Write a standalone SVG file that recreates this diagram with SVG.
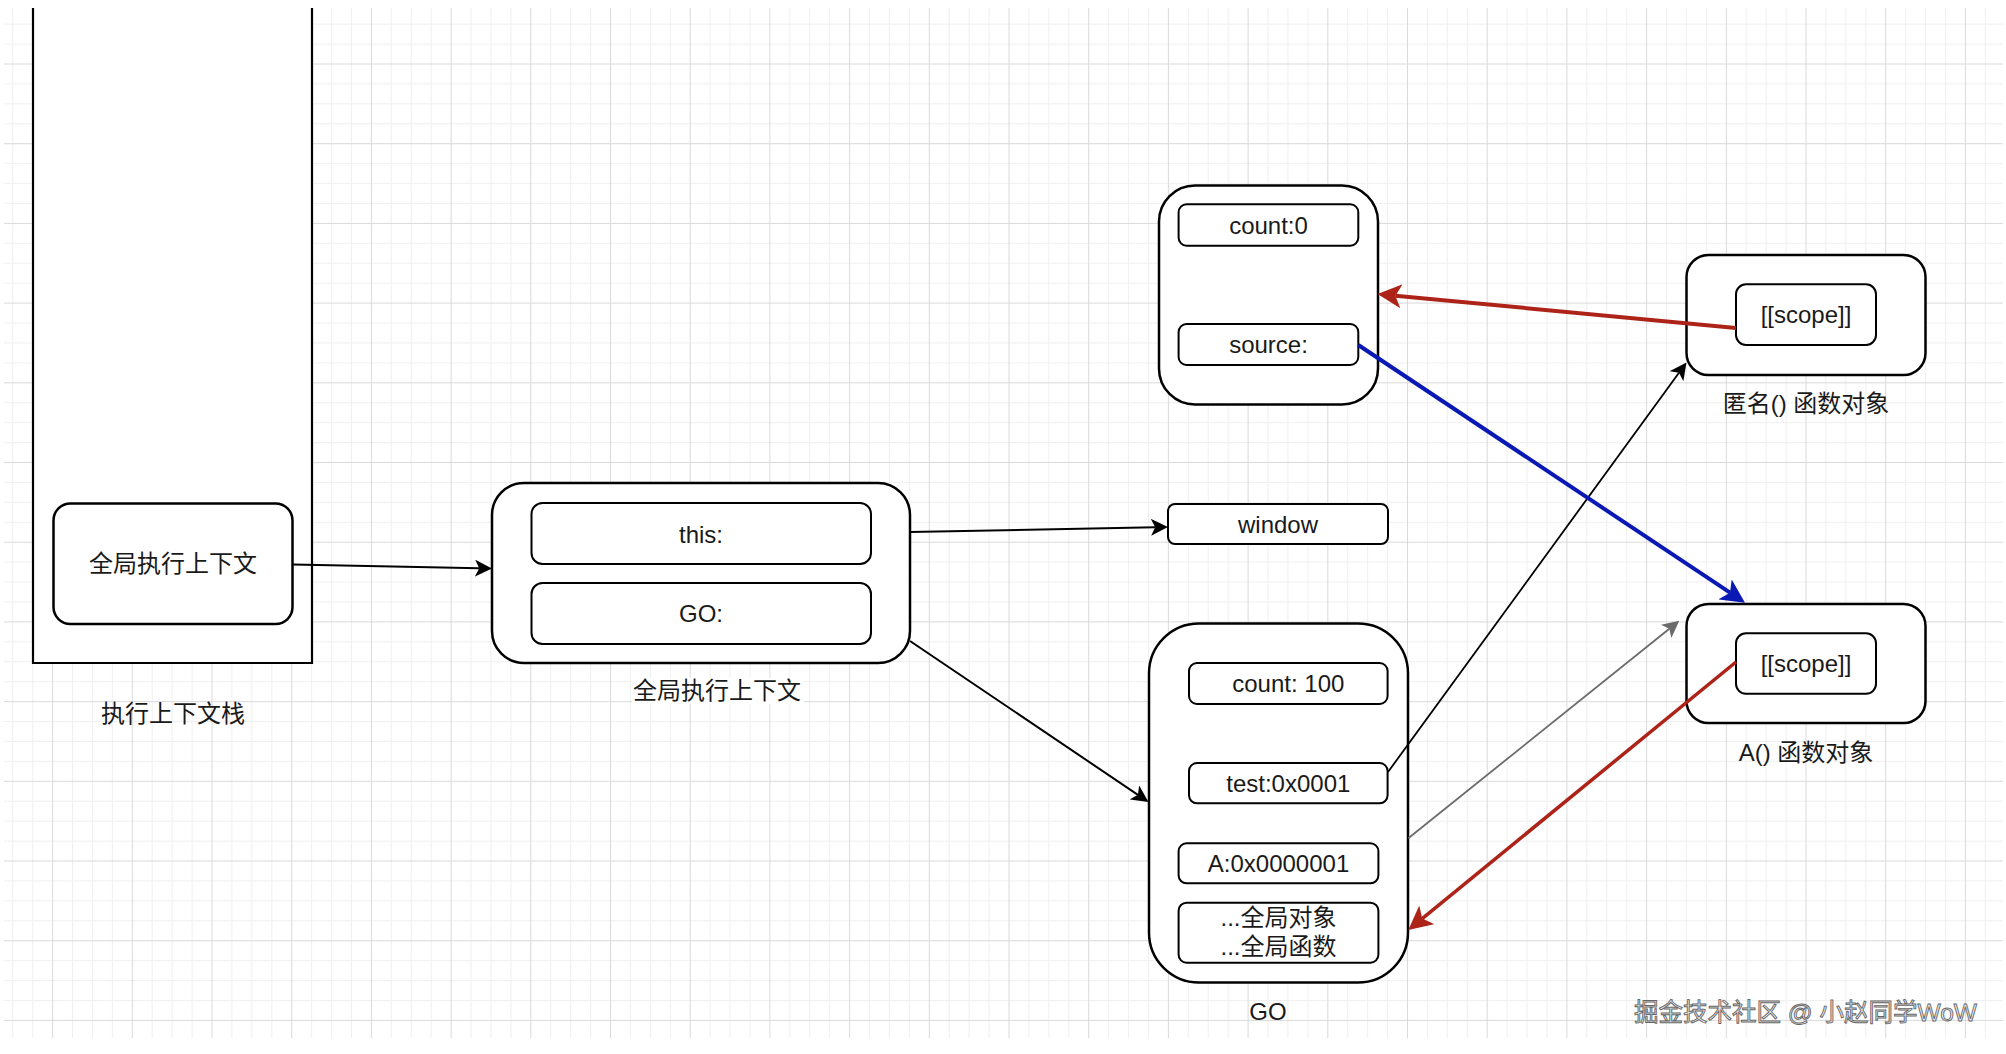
<svg xmlns="http://www.w3.org/2000/svg" width="2006" height="1054" viewBox="0 0 2006 1054">
<style>
  .txt { font-family: "Liberation Sans", "Noto Sans CJK SC", sans-serif; font-size: 24px; fill: #1a1a1a; text-anchor: middle; }
  .outer { fill: #ffffff; stroke: #000000; stroke-width: 2.5; }
  .inner { fill: #ffffff; stroke: #000000; stroke-width: 2; }
  .conn { fill: none; }
  .wm { font-family: "Liberation Sans", "Noto Sans CJK SC", sans-serif; font-size: 24.5px; fill: #ececec; stroke: #666666; stroke-width: 0.9; }
</style>
<defs>
  <pattern id="grid" patternUnits="userSpaceOnUse" x="370.9" y="63.5" width="79.7" height="79.7">
    <rect x="0" y="0" width="79.7" height="79.7" fill="#ffffff"/>
    <rect x="19.9" y="0" width="1" height="79.7" fill="#f0f0f0"/>
    <rect x="39.8" y="0" width="1" height="79.7" fill="#f0f0f0"/>
    <rect x="59.8" y="0" width="1" height="79.7" fill="#f0f0f0"/>
    <rect x="0" y="19.9" width="79.7" height="1" fill="#f0f0f0"/>
    <rect x="0" y="39.8" width="79.7" height="1" fill="#f0f0f0"/>
    <rect x="0" y="59.8" width="79.7" height="1" fill="#f0f0f0"/>
    <rect x="0" y="0" width="1" height="79.7" fill="#dadada"/>
    <rect x="0" y="0" width="79.7" height="1" fill="#dadada"/>
  </pattern>
  <marker id="m-blk" viewBox="0 0 17 17" refX="4.25" refY="8.5" markerWidth="17" markerHeight="17" markerUnits="userSpaceOnUse" orient="auto">
    <path d="M0,0 L17,8.5 L0,17 L4.25,8.5 Z" fill="#000000"/>
  </marker>
  <marker id="m-gray" viewBox="0 0 17 17" refX="4.25" refY="8.5" markerWidth="17" markerHeight="17" markerUnits="userSpaceOnUse" orient="auto">
    <path d="M0,0 L17,8.5 L0,17 L4.25,8.5 Z" fill="#6b6b6b"/>
  </marker>
  <marker id="m-red" viewBox="0 0 24 24" refX="6" refY="12" markerWidth="24" markerHeight="24" markerUnits="userSpaceOnUse" orient="auto">
    <path d="M0,0 L24,12 L0,24 L6,12 Z" fill="#ad2318"/>
  </marker>
  <marker id="m-blue" viewBox="0 0 24 24" refX="6" refY="12" markerWidth="24" markerHeight="24" markerUnits="userSpaceOnUse" orient="auto">
    <path d="M0,0 L24,12 L0,24 L6,12 Z" fill="#0a19b4"/>
  </marker>
</defs>

<rect x="0" y="0" width="2006" height="1054" fill="#ffffff"/>
<rect x="4" y="8" width="1999" height="1030" fill="url(#grid)"/>

<g id="stack">
  <rect x="33" y="8" width="279" height="655" fill="#ffffff"/>
  <path d="M33,8 V663 H312 V8" fill="none" stroke="#000000" stroke-width="2.2"/>
  <text class="txt" x="173" y="721.5">执行上下文栈</text>
</g>

<g id="stack-gec">
  <rect class="outer" x="53.5" y="503.5" width="239" height="120.5" rx="17"/>
  <text class="txt" x="173" y="572">全局执行上下文</text>
</g>

<g id="gec">
  <rect class="outer" x="492" y="483" width="418" height="180" rx="32"/>
  <rect class="inner" x="531.5" y="503" width="339.5" height="61" rx="11"/>
  <text class="txt" x="701" y="542.5">this:</text>
  <rect class="inner" x="531.5" y="583" width="339.5" height="61" rx="11"/>
  <text class="txt" x="701" y="622">GO:</text>
  <rect x="632" y="678" width="172" height="26" fill="#ffffff"/>
  <text class="txt" x="717" y="698.5">全局执行上下文</text>
</g>

<g id="window">
  <rect class="inner" x="1168" y="504" width="220" height="40" rx="7"/>
  <text class="txt" x="1278" y="532.5">window</text>
</g>

<g id="closure">
  <rect class="outer" x="1159" y="185.5" width="219" height="219" rx="36"/>
  <rect class="inner" x="1178.6" y="204.3" width="179.7" height="41.4" rx="8"/>
  <text class="txt" x="1268.5" y="233.5">count:0</text>
  <rect class="inner" x="1178.6" y="324" width="179.7" height="41" rx="8"/>
  <text class="txt" x="1268.5" y="353">source:</text>
</g>

<g id="GO">
  <rect class="outer" x="1149" y="623.5" width="259" height="359" rx="50"/>
  <rect class="inner" x="1189" y="663" width="198.6" height="41" rx="8"/>
  <text class="txt" x="1288.3" y="692">count: 100</text>
  <rect class="inner" x="1189" y="763" width="198.6" height="40.3" rx="8"/>
  <text class="txt" x="1288.3" y="791.5">test:0x0001</text>
  <rect class="inner" x="1178.6" y="843.3" width="199.8" height="40" rx="8"/>
  <text class="txt" x="1278.5" y="872">A:0x0000001</text>
  <rect class="inner" x="1178.6" y="902.7" width="199.8" height="60" rx="8"/>
  <text class="txt" x="1278.5" y="926">...全局对象</text>
  <text class="txt" x="1278.5" y="954.5">...全局函数</text>
  <text class="txt" x="1268" y="1019.5">GO</text>
</g>

<g id="anon-fn">
  <rect class="outer" x="1686.5" y="255" width="239" height="120" rx="22"/>
  <rect class="inner" x="1736" y="284.3" width="140" height="60.7" rx="10"/>
  <text class="txt" x="1806" y="323">[[scope]]</text>
  <text class="txt" x="1806" y="411.5">匿名() 函数对象</text>
</g>

<g id="A-fn">
  <rect class="outer" x="1686.5" y="604" width="239" height="119" rx="22"/>
  <rect class="inner" x="1736" y="633.3" width="140" height="60.5" rx="10"/>
  <text class="txt" x="1806" y="672">[[scope]]</text>
  <text class="txt" x="1806" y="760.5">A() 函数对象</text>
</g>

<g id="connectors" class="conn">
  <path d="M293,564.5 L479.25,568.24" stroke="#000000" stroke-width="2" marker-end="url(#m-blk)"/>
  <path d="M910,532 L1155.25,527.25" stroke="#000000" stroke-width="2" marker-end="url(#m-blk)"/>
  <path d="M910,641 L1137.93,794.87" stroke="#000000" stroke-width="2" marker-end="url(#m-blk)"/>
  <path d="M1388,772 L1678.99,372.8" stroke="#000000" stroke-width="1.8" marker-end="url(#m-blk)"/>
  <path d="M1408.3,838.3 L1669.36,628.68" stroke="#6b6b6b" stroke-width="1.8" marker-end="url(#m-gray)"/>
  <path d="M1736,662 L1422.23,918.6" stroke="#ad2318" stroke-width="3.5" marker-end="url(#m-red)"/>
  <path d="M1736,328 L1395.42,295.7" stroke="#ad2318" stroke-width="4" marker-end="url(#m-red)"/>
  <path d="M1358.3,345 L1730.02,592.71" stroke="#0a19b4" stroke-width="4" marker-end="url(#m-blue)"/>
</g>

<text class="wm" x="1634" y="1020.5">掘金技术社区 @ 小赵同学WoW</text>
</svg>
